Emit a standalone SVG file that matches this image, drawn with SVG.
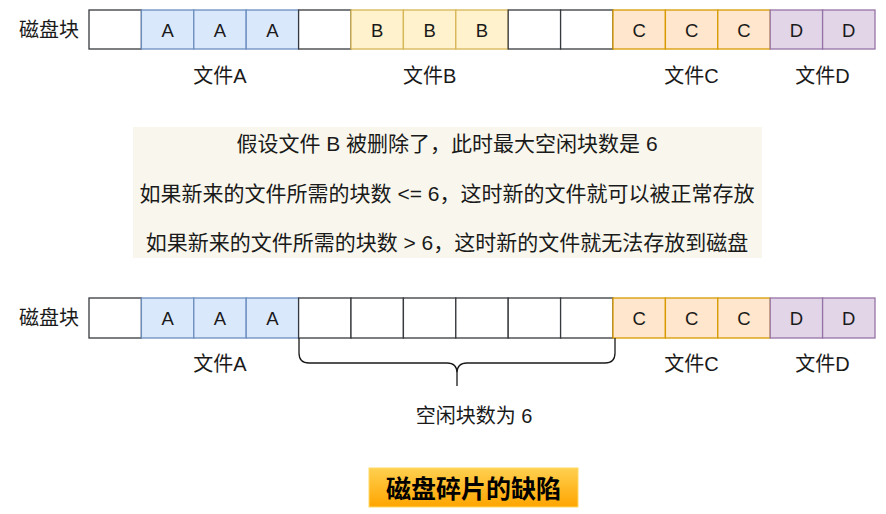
<svg xmlns="http://www.w3.org/2000/svg" width="886" height="514" viewBox="0 0 886 514">
<defs>
<linearGradient id="g" x1="0" y1="0" x2="0" y2="1"><stop offset="0" stop-color="#ffd050"/><stop offset="1" stop-color="#ffa500"/></linearGradient>
<style>
text{font-family:"Liberation Sans","Noto Sans CJK SC",sans-serif;fill:#1a1a1a;text-anchor:middle;dominant-baseline:central}
.lbl{font-size:20px}
.c{font-size:18.5px}
.e{fill:#fff;stroke:#36393d;stroke-width:1.3}
.a{fill:#dae8fc;stroke:#6c8ebf;stroke-width:1.3}
.b{fill:#fff2cc;stroke:#d6b656;stroke-width:1.3}
.cc{fill:#ffe6cc;stroke:#d79b00;stroke-width:1.3}
.d{fill:#e1d5e7;stroke:#9673a6;stroke-width:1.3}
.note{font-size:21px}
</style>
</defs>
<rect width="886" height="514" fill="#fff"/>
<g id="row1">
<text class="lbl" x="49" y="30">磁盘块</text>
<rect class="e" x="89" y="10" width="52.4" height="39"/>
<rect class="a" x="141.4" y="10" width="52.4" height="39"/>
<rect class="a" x="193.8" y="10" width="52.4" height="39"/>
<rect class="a" x="246.2" y="10" width="52.4" height="39"/>
<rect class="e" x="298.6" y="10" width="52.4" height="39"/>
<rect class="b" x="351" y="10" width="52.4" height="39"/>
<rect class="b" x="403.4" y="10" width="52.4" height="39"/>
<rect class="b" x="455.8" y="10" width="52.4" height="39"/>
<rect class="e" x="508.2" y="10" width="52.4" height="39"/>
<rect class="e" x="560.6" y="10" width="52.4" height="39"/>
<rect class="cc" x="613" y="10" width="52.4" height="39"/>
<rect class="cc" x="665.4" y="10" width="52.4" height="39"/>
<rect class="cc" x="717.8" y="10" width="52.4" height="39"/>
<rect class="d" x="770.2" y="10" width="52.4" height="39"/>
<rect class="d" x="822.6" y="10" width="52.4" height="39"/>
<text class="c" x="167.6" y="30">A</text>
<text class="c" x="220" y="30">A</text>
<text class="c" x="272.4" y="30">A</text>
<text class="c" x="377.2" y="30">B</text>
<text class="c" x="429.6" y="30">B</text>
<text class="c" x="482" y="30">B</text>
<text class="c" x="639.2" y="30">C</text>
<text class="c" x="691.6" y="30">C</text>
<text class="c" x="744" y="30">C</text>
<text class="c" x="796.4" y="30">D</text>
<text class="c" x="848.8" y="30">D</text>
<text class="lbl" x="220" y="76">文件A</text>
<text class="lbl" x="429.6" y="76">文件B</text>
<text class="lbl" x="691.6" y="76">文件C</text>
<text class="lbl" x="822.6" y="76">文件D</text>
</g>
<g id="note">
<rect x="133" y="127" width="629" height="131" fill="#f9f7ed"/>
<text class="note" x="447" y="143">假设文件 B 被删除了，此时最大空闲块数是 6</text>
<text class="note" x="447" y="193">如果新来的文件所需的块数 &lt;= 6，这时新的文件就可以被正常存放</text>
<text class="note" x="447" y="242">如果新来的文件所需的块数 &gt; 6，这时新的文件就无法存放到磁盘</text>
</g>
<g id="row2">
<text class="lbl" x="49" y="318">磁盘块</text>
<rect class="e" x="89" y="298" width="52.4" height="40"/>
<rect class="a" x="141.4" y="298" width="52.4" height="40"/>
<rect class="a" x="193.8" y="298" width="52.4" height="40"/>
<rect class="a" x="246.2" y="298" width="52.4" height="40"/>
<rect class="e" x="298.6" y="298" width="52.4" height="40"/>
<rect class="e" x="351" y="298" width="52.4" height="40"/>
<rect class="e" x="403.4" y="298" width="52.4" height="40"/>
<rect class="e" x="455.8" y="298" width="52.4" height="40"/>
<rect class="e" x="508.2" y="298" width="52.4" height="40"/>
<rect class="e" x="560.6" y="298" width="52.4" height="40"/>
<rect class="cc" x="613" y="298" width="52.4" height="40"/>
<rect class="cc" x="665.4" y="298" width="52.4" height="40"/>
<rect class="cc" x="717.8" y="298" width="52.4" height="40"/>
<rect class="d" x="770.2" y="298" width="52.4" height="40"/>
<rect class="d" x="822.6" y="298" width="52.4" height="40"/>
<text class="c" x="167.6" y="318">A</text>
<text class="c" x="220" y="318">A</text>
<text class="c" x="272.4" y="318">A</text>
<text class="c" x="639.2" y="318">C</text>
<text class="c" x="691.6" y="318">C</text>
<text class="c" x="744" y="318">C</text>
<text class="c" x="796.4" y="318">D</text>
<text class="c" x="848.8" y="318">D</text>
<text class="lbl" x="220" y="364">文件A</text>
<text class="lbl" x="691.6" y="364">文件C</text>
<text class="lbl" x="822.6" y="364">文件D</text>
</g>
<g id="brace">
<path d="M299 338 V353 Q299 363 309 363 H447 Q457 363 457 373 V386 M457 373 Q457 363 467 363 H605 Q615 363 615 353 V338" fill="none" stroke="#1a1a1a" stroke-width="1.3"/>
<text class="lbl" x="474" y="416">空闲块数为 6</text>
</g>
<g id="title">
<rect x="369" y="468" width="209" height="39" fill="url(#g)" stroke="#ffd966" stroke-width="1"/>
<text x="473.5" y="489" style="font-size:25px;font-weight:bold;fill:#000">磁盘碎片的缺陷</text>
</g>
</svg>
